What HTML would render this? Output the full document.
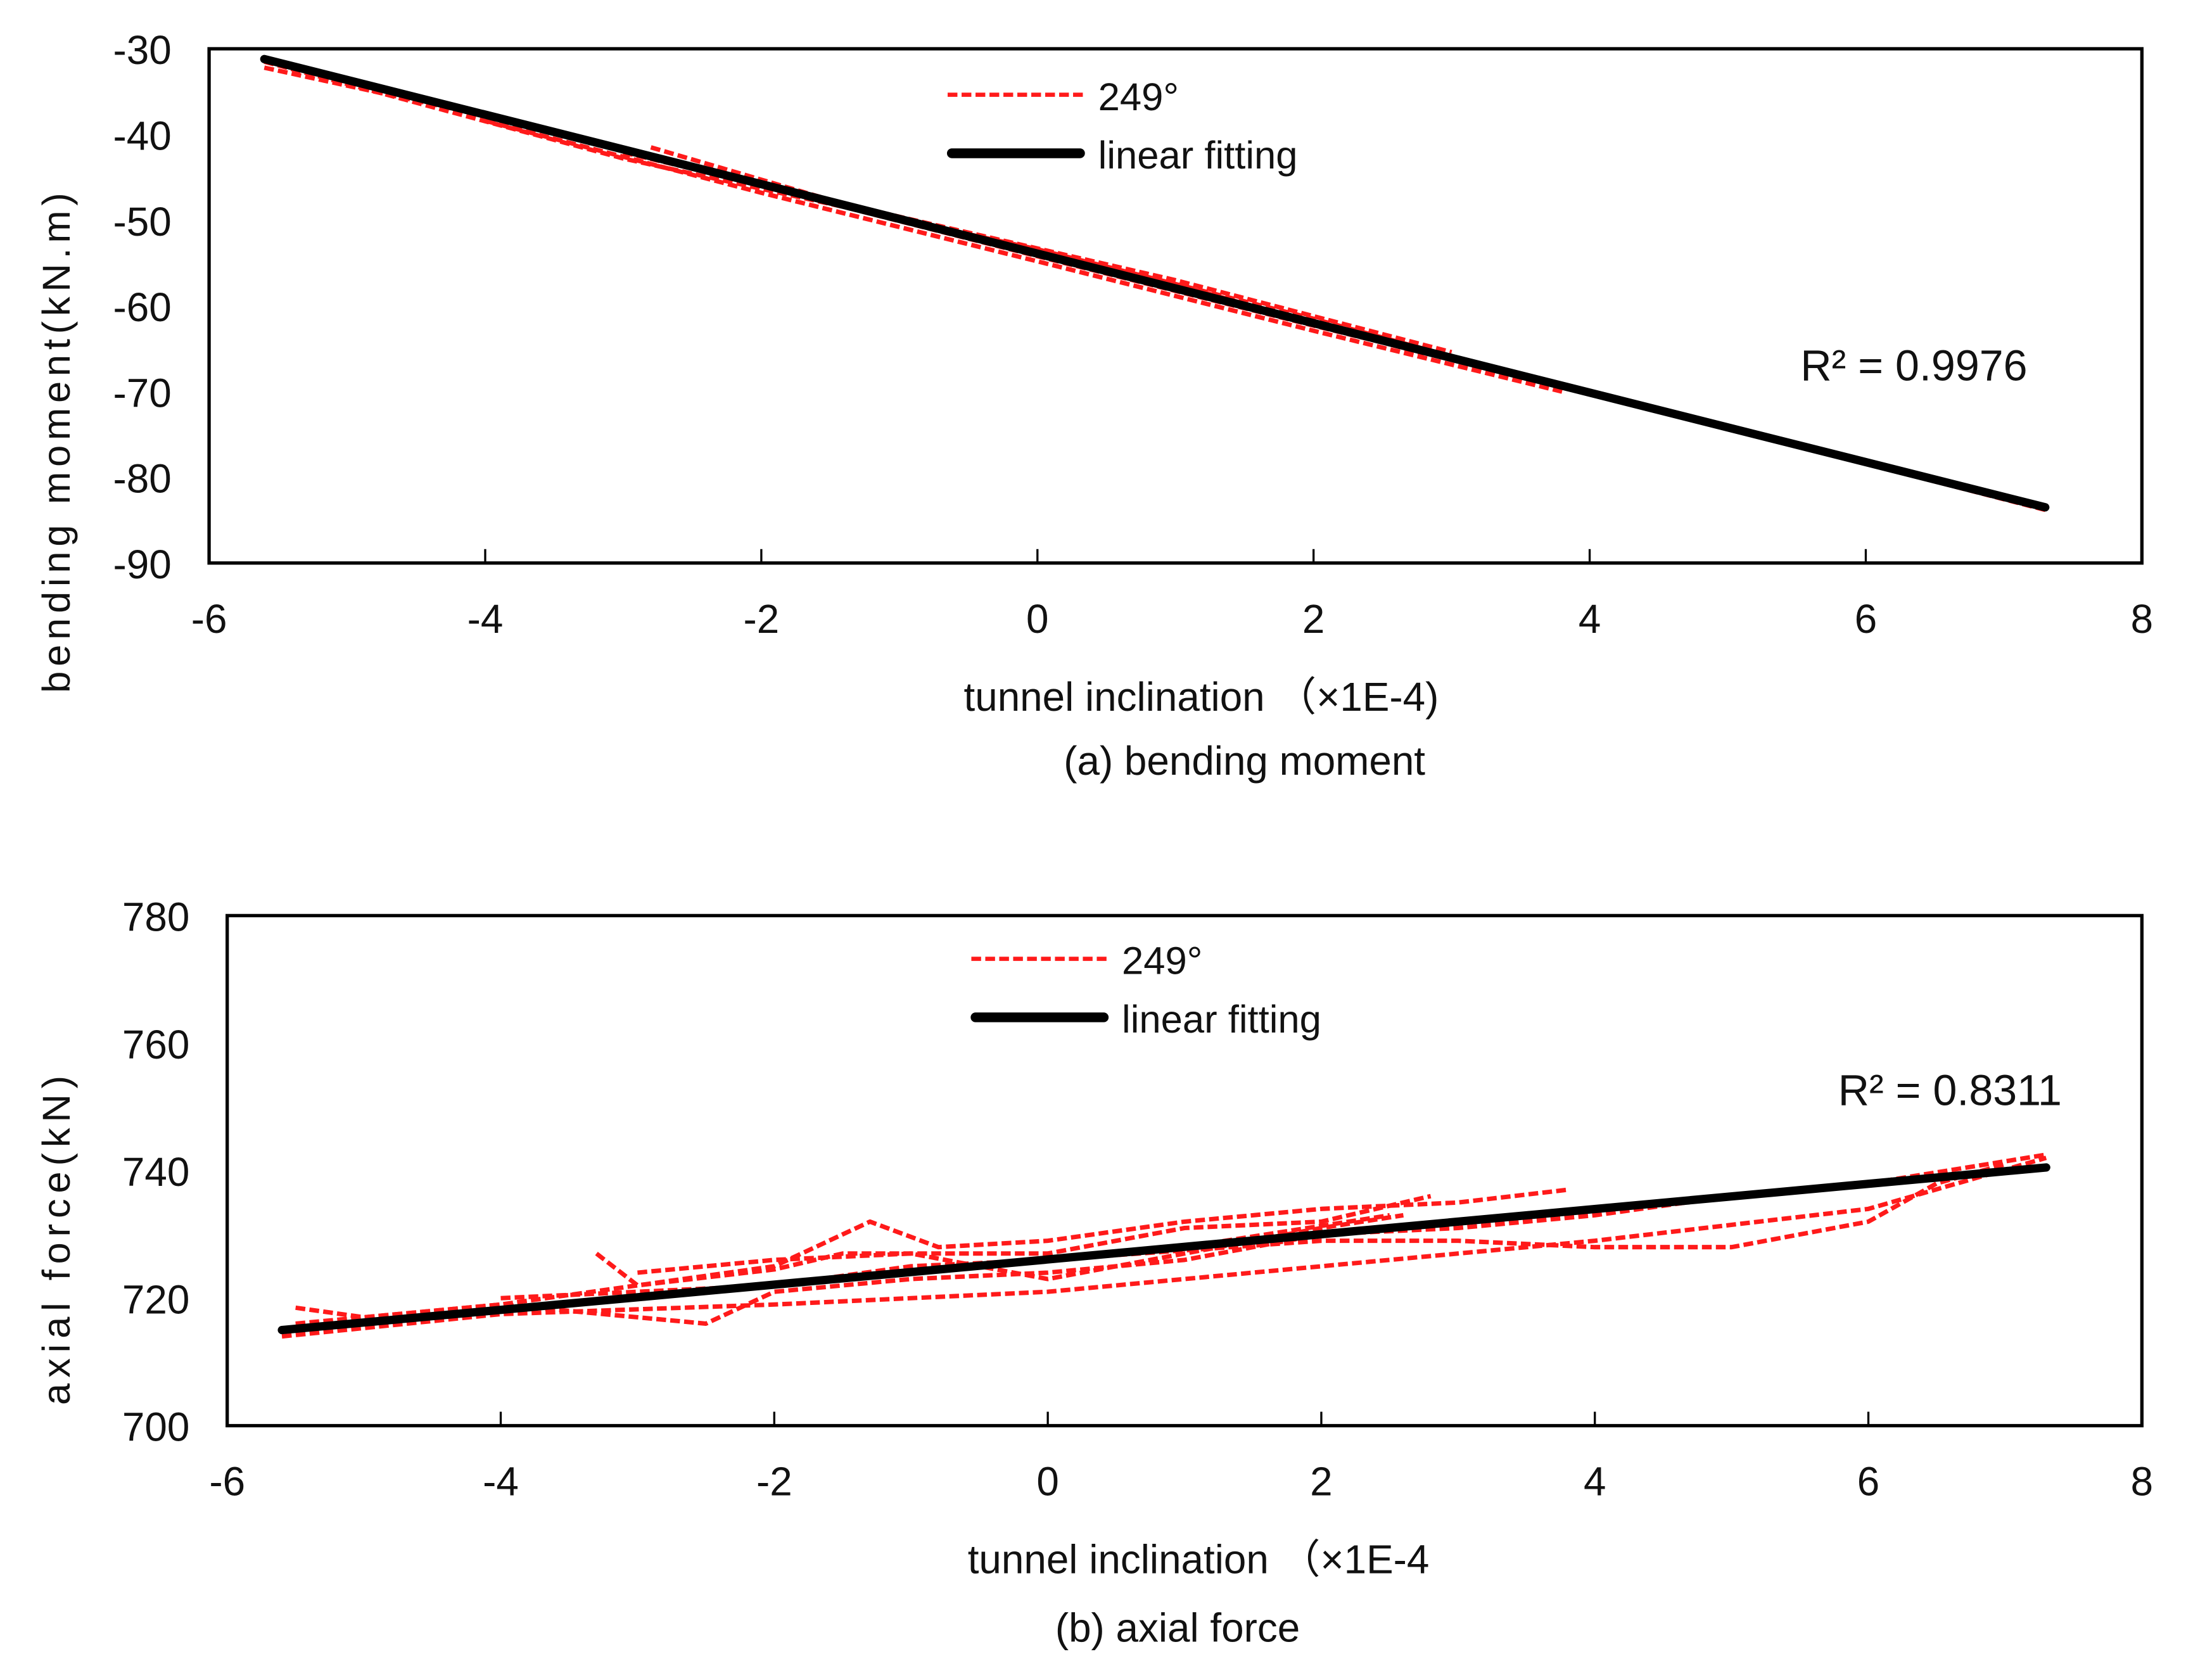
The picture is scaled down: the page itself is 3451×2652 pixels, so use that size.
<!DOCTYPE html>
<html><head><meta charset="utf-8"><style>
html,body{margin:0;padding:0;background:#fff}
svg{display:block}
text{font-family:"Liberation Sans",Arial,sans-serif;fill:#111}
</style></head><body>
<svg id="s" width="3451" height="2652" viewBox="0 0 1568.6 1205.5" xmlns="http://www.w3.org/2000/svg"></svg>
<script>
// ---- Chart (a) data ----
const xTicks = [-6,-4,-2,0,2,4,6,8];
const aYTicks = [-30,-40,-50,-60,-70,-80,-90];
const aFitX = [-5.6, 7.3];
const aFitY = [-31.2, -83.5];
const aRed1X = [-5.6,-4,-2,0,2,4,6,7.3];
const aRed1Y = [-32.2,-37.8,-46.0,-54.2,-62.3,-70.2,-78.4,-83.8];
const aRed2X = [-2.8,-1,1,2.8];
const aRed2Y = [-41.5,-50,-57.5,-65.6];
const aRed3X = [-5.6,-3,0,2,3.8];
const aRed3Y = [-31.5,-42.8,-53.4,-61.5,-69.4];
const aRed4X = [-4,-2,0,2,3.8];
const aRed4Y = [-38.4,-46.8,-54.8,-62.9,-70.0];
const aRed5X = [-3,-1,1,3];
const aRed5Y = [-42.1,-49.6,-57.0,-65.4];
// ---- Chart (b) data ----
const bYTicks = [780,760,740,720,700];
const bFitX = [-5.6, 7.3];
const bFitY = [715, 740.5];
const bRed1X = [-5.6,-4,-2,0,2,4,6,7.3];
const bRed1Y = [714,717.5,719,721,725,729,734,742];
const bRed2X = [-5.5,-5,-4,-3,-2,-1.5,-1,0,1,2,2.8];
const bRed2Y = [718.5,717,719,722,724.5,727,727,727,731,732,736];
const bRed3X = [-3.3,-3,-2,-1.3,-0.8,0,1,2,3,3.8];
const bRed3Y = [727,722,725,732,728,729,732,734,735,737];
const bRed4X = [-5.5,-4,-2.5,-2,-1,0,1,2,3,4,5,6,7.3];
const bRed4Y = [716,719,716,721,723,724,726,730,731,733,736,738,742.5];
const bRed5X = [0,2,3,4,5,6,6.5,7];
const bRed5Y = [726,729,729,728,728,732,738,741];
const bRed6X = [-4,-2,-1,0,1,2.5];
const bRed6Y = [720,722,725,726,728,733];
const bRed7X = [-3,-2,-1,0,1,2,2.6];
const bRed7Y = [724,726,727,723,727,731,733];

const NS="http://www.w3.org/2000/svg";
const svg=document.getElementById('s');
function mk(tag,attrs,parent){const e=document.createElementNS(NS,tag);for(const k in attrs)e.setAttribute(k,attrs[k]);(parent||svg).appendChild(e);return e;}
function txt(s,attrs,parent){const e=mk('text',attrs,parent);e.textContent=s;return e;}

function chart(cfg){
  const g=mk('g',{});
  
  
  const sx=v=>cfg.L+(v-(-6))/(14)*(cfg.R-cfg.L);
  const sy=v=>cfg.T+(cfg.ymax-v)/(cfg.ymax-cfg.ymin)*(cfg.B-cfg.T);
  cfg.reds.forEach((r,i)=>{
    const p=mk('polyline',{points:r[0].map((x,j)=>sx(x)+','+sy(r[1][j])).join(' '),fill:'none',stroke:'#ff1a1a','stroke-width':3.2,'stroke-dasharray':'7,3','stroke-linejoin':'round'},g);
    
    
  });
  const f=mk('line',{x1:sx(cfg.fit[0][0]),y1:sy(cfg.fit[1][0]),x2:sx(cfg.fit[0][1]),y2:sy(cfg.fit[1][1]),stroke:'#000','stroke-width':6,'stroke-linecap':'round'},g);
  
  
  const fr=mk('rect',{x:cfg.L,y:cfg.T,width:cfg.R-cfg.L,height:cfg.B-cfg.T,fill:'none',stroke:'#000','stroke-width':2.4},g);
  
  
  xTicks.forEach(v=>{
    const t=mk('line',{x1:sx(v),x2:sx(v),y1:cfg.B,y2:cfg.B-10,stroke:'#000','stroke-width':1.5},g);
    
    
    const l=txt(String(v),{x:sx(v),y:cfg.B+50,'font-size':29,'text-anchor':'middle'},g);
    
    
  });
  cfg.yTicks.forEach(v=>{
    const l=txt(String(v),{x:cfg.L-27,y:sy(v)+11,'font-size':29,'text-anchor':'end'},g);
    
    
  });
  const yt=txt(cfg.ytitle,{x:0,y:0,'font-size':28,'text-anchor':'middle',transform:`translate(${cfg.ytx},${cfg.yty}) rotate(-90)`,'letter-spacing':cfg.ls},g);
  
  
  const xt=txt(cfg.xtitle,{x:cfg.xtx,y:cfg.xty,'font-size':29,'text-anchor':'middle'},g);
  
  
  const cap=txt(cfg.caption,{x:cfg.capx,y:cfg.capy,'font-size':29,'text-anchor':'middle'},g);
  
  
  const lr=mk('line',{x1:cfg.lgx,x2:cfg.lgx+98,y1:cfg.lgy,y2:cfg.lgy,stroke:'#ff1a1a','stroke-width':3,'stroke-dasharray':'7,3'},g);
  
  
  const lt1=txt('249°',{x:cfg.lgx+108,y:cfg.lgy+11,'font-size':28},g);
  
  
  const lb=mk('line',{x1:cfg.lgx+3,x2:cfg.lgx+95,y1:cfg.lgy+42,y2:cfg.lgy+42,stroke:'#000','stroke-width':7,'stroke-linecap':'round'},g);
  
  
  const lt2=txt('linear fitting',{x:cfg.lgx+108,y:cfg.lgy+53,'font-size':28},g);
  
  
  const r2=txt(cfg.r2,{x:cfg.r2x,y:cfg.r2y,'font-size':31},g);
  
  
}

chart({name:'bending-moment-chart',L:150,R:1537,T:35,B:404,ymax:-30,ymin:-90,yTicks:aYTicks,
  fit:[aFitX,aFitY],reds:[[aRed1X,aRed1Y],[aRed2X,aRed2Y],[aRed3X,aRed3Y],[aRed4X,aRed4Y],[aRed5X,aRed5Y]],
  ytitle:'bending moment(kN.m)',ytx:50,yty:316,ls:3.5,xtitle:'tunnel inclination （×1E-4)',xtx:862,xty:510,
  caption:'(a)  bending moment',capx:893,capy:556,lgx:680,lgy:68,r2:'R² = 0.9976',r2x:1292,r2y:273});
chart({name:'axial-force-chart',L:163,R:1537,T:657,B:1023,ymax:780,ymin:700,yTicks:bYTicks,
  fit:[bFitX,bFitY],reds:[[bRed1X,bRed1Y],[bRed2X,bRed2Y],[bRed3X,bRed3Y],[bRed4X,bRed4Y],[bRed5X,bRed5Y],[bRed6X,bRed6Y],[bRed7X,bRed7Y]],
  ytitle:'axial force(kN)',ytx:50,yty:888,ls:4,xtitle:'tunnel inclination （×1E-4',xtx:860,xty:1129,
  caption:'(b)  axial force',capx:845,capy:1178,lgx:697,lgy:688,r2:'R² = 0.8311',r2x:1319,r2y:793});
</script>
</body></html>
